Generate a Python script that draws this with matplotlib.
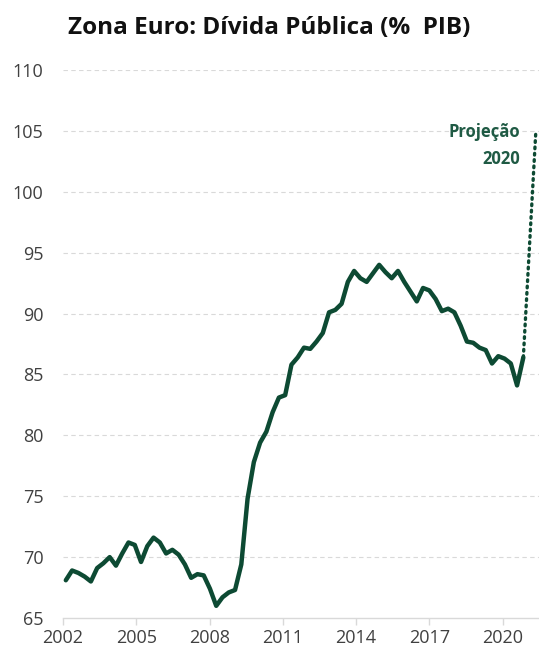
import numpy as np
import pandas as pd
import matplotlib
matplotlib.use("Agg")
import matplotlib.pyplot as plt

# Quarterly government debt, euro area (% of GDP), 2001Q4 .. 2020Q1
QUARTERS = pd.period_range("2001Q4", "2020Q1", freq="Q")
DEBT = [68.1, 68.9, 68.7, 68.4, 68.0, 69.1, 69.5, 70.0, 69.3, 70.3,
        71.2, 71.0, 69.6, 70.9, 71.6, 71.2, 70.3, 70.6, 70.2, 69.4,
        68.3, 68.6, 68.5, 67.4, 66.0, 66.7, 67.1, 67.3, 69.4, 74.8,
        77.8, 79.4, 80.3, 81.9, 83.1, 83.3, 85.8, 86.4, 87.2, 87.1,
        87.7, 88.4, 90.1, 90.3, 90.8, 92.6, 93.5, 92.9, 92.6, 93.3,
        94.0, 93.4, 92.9, 93.5, 92.6, 91.8, 91.0, 92.1, 91.9, 91.2,
        90.2, 90.4, 90.1, 89.0, 87.7, 87.6, 87.2, 87.0, 85.9, 86.5,
        86.3, 85.9, 84.1, 86.4]
PROJ_2020 = 105.0
YEAR_LABELS = ["2002", "2005", "2008", "2011", "2014", "2017", "2020"]
Y_TICKS = [65, 70, 75, 80, 85, 90, 95, 100, 105, 110]

GREEN = "#0d4a33"
GRID = "#d9d9d9"
TXT = "#404040"

plt.rcParams["font.family"] = ["Open Sans", "DejaVu Sans"]

fig = plt.figure(figsize=(5.39, 6.55), dpi=100)
ax = fig.add_axes([63 / 539, 37 / 655, 1 - 63 / 539, (618 - 70) / 655])

x = np.arange(len(DEBT))
ax.plot(x, DEBT, color=GREEN, lw=3.2, solid_joinstyle="round",
        solid_capstyle="round", zorder=3)
# projection for end of 2020
ax.plot([x[-1], x[-1] + 2], [DEBT[-1], PROJ_2020], color=GREEN, lw=2.4,
        linestyle=(0, (0.5, 1.4)), dash_capstyle="round", zorder=3)

ax.text(x[-1] - 0.5, 104.9, "Projeção", color="#1f5a44", fontsize=12,
        fontweight="bold", ha="right", va="center")
ax.text(x[-1] - 0.5, 102.7, "2020", color="#1f5a44", fontsize=12,
        fontweight="bold", ha="right", va="center")

ax.set_ylim(65, 110)
ax.set_xlim(-0.45, 75.5)
ax.set_yticks(Y_TICKS)
ax.set_yticklabels([str(v) for v in Y_TICKS])
tick_pos = -0.45 + 11.69 * np.arange(len(YEAR_LABELS))
ax.set_xticks(tick_pos)
ax.set_xticklabels(YEAR_LABELS)

for v in Y_TICKS[1:]:
    ax.axhline(v, color=GRID, lw=0.8, ls=(0, (4, 3)), zorder=1)

for s in ("top", "right", "left"):
    ax.spines[s].set_visible(False)
ax.spines["bottom"].set_color(GRID)
ax.spines["bottom"].set_linewidth(1.0)

ax.tick_params(axis="y", length=0, pad=14, labelsize=13, labelcolor=TXT)
ax.tick_params(axis="x", length=5, width=1.0, color=GRID, pad=3,
               labelsize=13, labelcolor=TXT)

fig.text(0.5, 0.957, "Zona Euro: Dívida Pública (%  PIB)", ha="center",
         va="center", fontsize=17.5, fontweight="bold", color="#111111")

fig.savefig("out.png", dpi=100)
